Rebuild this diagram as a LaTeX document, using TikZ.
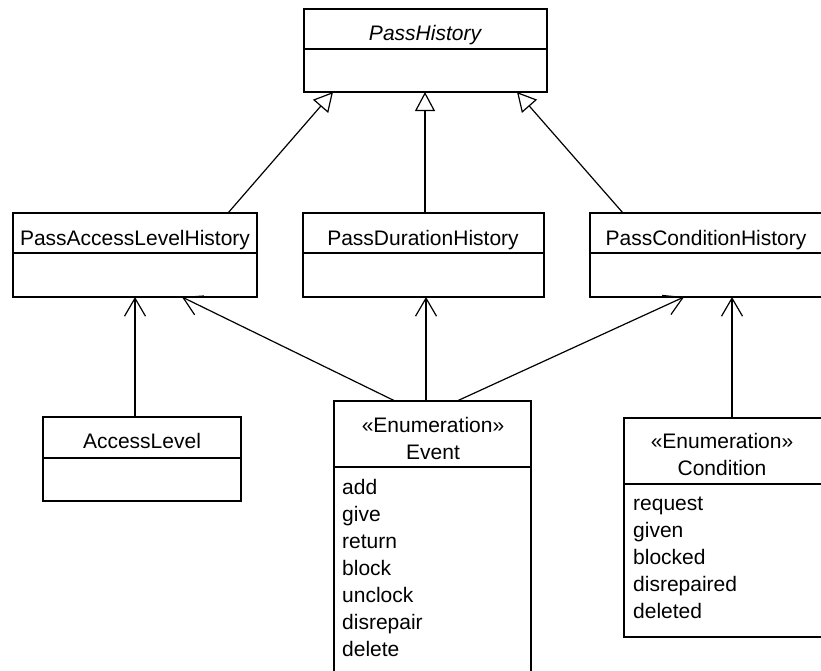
\documentclass[tikz,border=0pt]{standalone}
\usepackage{fontspec}
\setmainfont{Liberation Sans}
\usetikzlibrary{arrows.meta}
\tikzset{
  box/.style={draw=black, line width=1.2pt, fill=white, rectangle, anchor=north west, inner sep=0pt, outer sep=0pt},
  lbl/.style={anchor=base, inner sep=0pt, font=\fontsize{21}{27}\selectfont},
  item/.style={anchor=base west, inner sep=0pt, font=\fontsize{21}{27}\selectfont},
  conn/.style={draw=black, line width=1.2pt},
  gen/.style={conn, -{Triangle[open, length=19pt, width=20pt, line width=1.2pt]}},
  nav/.style={conn, -{Straight Barb[length=18pt, width=21pt, line width=1.2pt]}}
}
\begin{document}
\begin{tikzpicture}[x=1pt, y=-1pt]
\useasboundingbox (0,0) rectangle (821,670);
\clip (0,0) rectangle (821,670);
\fill[white] (0,0) rectangle (821,670);

% boxes
\node[box, minimum width=243pt, minimum height=83pt] (ph) at (304,9) {};
\node[box, minimum width=244pt, minimum height=84pt] (palh) at (13,213) {};
\node[box, minimum width=241pt, minimum height=84pt] (pdh) at (303,213) {};
\node[box, minimum width=244pt, minimum height=84pt] (pch) at (590,213) {};
\node[box, minimum width=198pt, minimum height=84pt] (al) at (43,417) {};
\node[box, minimum width=197pt, minimum height=290pt] (ev) at (334,401) {};
\node[box, minimum width=198pt, minimum height=219pt] (cond) at (624,418) {};

% header separators
\draw[conn] ([yshift=-40pt]ph.north west) -- ([yshift=-40pt]ph.north east);
\draw[conn] ([yshift=-40pt]palh.north west) -- ([yshift=-40pt]palh.north east);
\draw[conn] ([yshift=-40pt]pdh.north west) -- ([yshift=-40pt]pdh.north east);
\draw[conn] ([yshift=-40pt]pch.north west) -- ([yshift=-40pt]pch.north east);
\draw[conn] ([yshift=-41pt]al.north west) -- ([yshift=-41pt]al.north east);
\draw[conn] ([yshift=-66pt]ev.north west) -- ([yshift=-66pt]ev.north east);
\draw[conn] ([yshift=-66pt]cond.north west) -- ([yshift=-66pt]cond.north east);

% titles
\node[lbl] (tph) at (425,40) {\itshape PassHistory};
\node[lbl] (tpalh) at (135,245) {PassAccessLevelHistory};
\node[lbl] (tpdh) at (423,245) {PassDurationHistory};
\node[lbl] (tpch) at (706,245) {PassConditionHistory};
\node[lbl] (tal) at (142,448) {AccessLevel};
\node[lbl] (tevs) at (433,432) {«Enumeration»};
\node[lbl] (tev) at (433,459) {Event};
\node[lbl] (tconds) at (722,448) {«Enumeration»};
\node[lbl] (tcond) at (722,475) {Condition};

% literals
\foreach \t [count=\i] in {add,give,return,block,unclock,disrepair,delete}
  \node[item] (evl\i) at (342,{494+27*(\i-1)}) {\t};
\foreach \t [count=\i] in {request,given,blocked,disrepaired,deleted}
  \node[item] (cl\i) at (633,{510+27*(\i-1)}) {\t};

% generalizations
\draw[gen] ([xshift=215pt]palh.north west) -- ([xshift=29pt]ph.south west);
\draw[gen] ([xshift=122pt]pdh.north west) -- ([xshift=121pt]ph.south west);
\draw[gen] ([xshift=33pt]pch.north west) -- ([xshift=213pt]ph.south west);

% associations
\draw[nav] ([xshift=92pt]al.north west) -- ([xshift=122pt]palh.south west);
\draw[nav] ([xshift=61pt]ev.north west) -- ([xshift=169pt]palh.south west);
\draw[nav] ([xshift=92pt]ev.north west) -- ([xshift=123pt]pdh.south west);
\draw[nav] ([xshift=123pt]ev.north west) -- ([xshift=94pt]pch.south west);
\draw[nav] ([xshift=108pt]cond.north west) -- ([xshift=142pt]pch.south west);
\end{tikzpicture}
\end{document}
